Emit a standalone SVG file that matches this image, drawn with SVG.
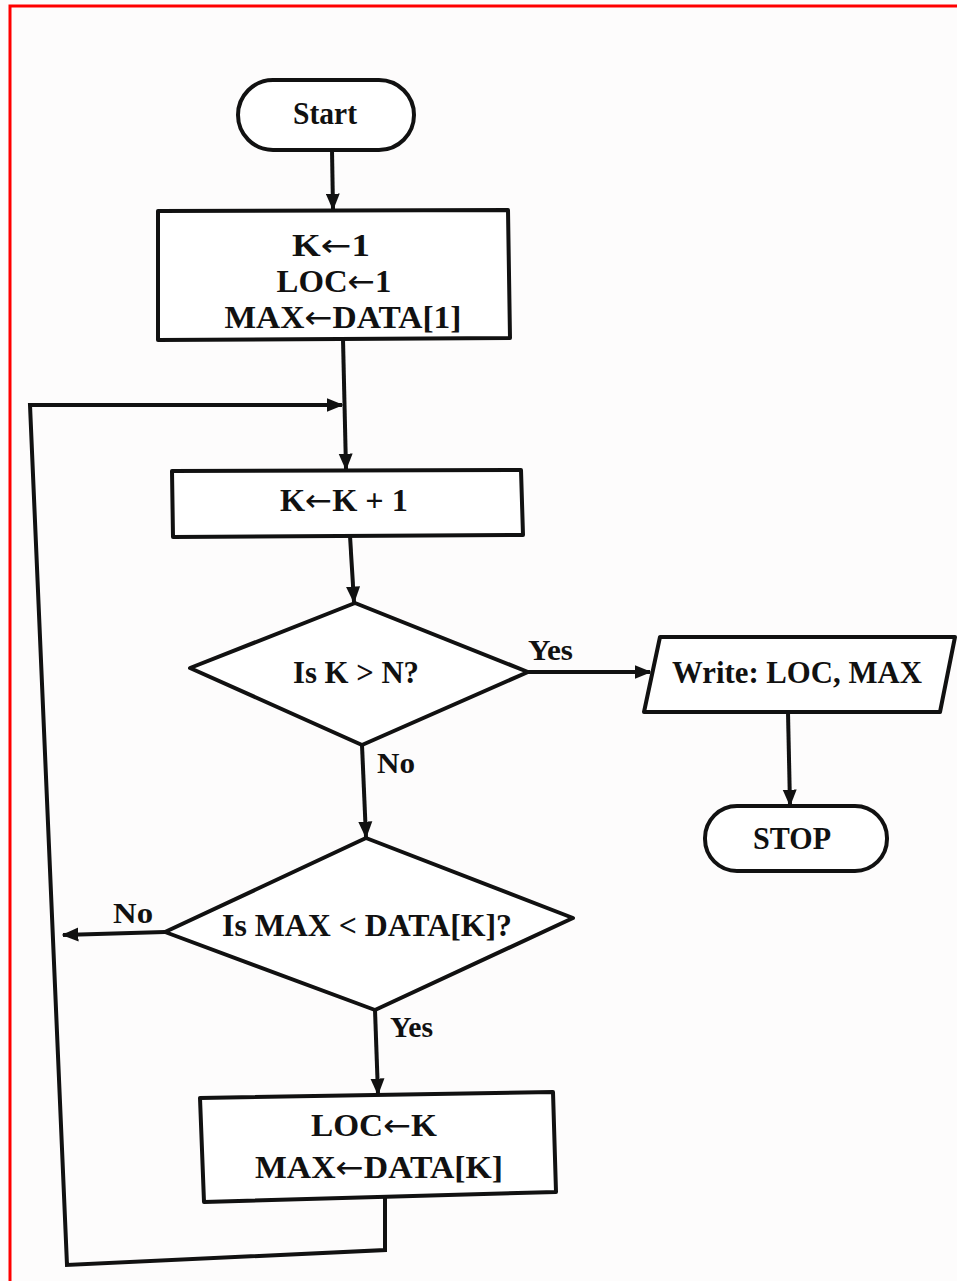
<svg xmlns="http://www.w3.org/2000/svg" width="957" height="1281" viewBox="0 0 957 1281">
<defs>
<style>
.s{fill:#fff;stroke:#111;stroke-width:4;stroke-linejoin:round}
.c{fill:none;stroke:#111;stroke-width:4;stroke-linejoin:miter}
.t{font-family:"Liberation Serif","Times New Roman",serif;font-size:31px;font-weight:bold;fill:#111;text-anchor:middle}
.l{font-family:"Liberation Serif","Times New Roman",serif;font-size:29px;font-weight:bold;fill:#111}
.ar{font-family:"DejaVu Sans",sans-serif;font-weight:normal}
</style>
<marker id="a" viewBox="0 0 12 10" refX="11" refY="5" markerWidth="4.2" markerHeight="3.6" orient="auto" markerUnits="strokeWidth">
<path d="M0,0 L12,5 L0,10 Z" fill="#111"/>
</marker>
</defs>
<rect x="0" y="0" width="957" height="1281" fill="#fdfcfc"/>
<path d="M957,6 H10 V1281" fill="none" stroke="#f00" stroke-width="3"/>

<g id="connectors">
<line class="c" x1="332" y1="150" x2="333" y2="209" marker-end="url(#a)"/>
<line class="c" x1="343" y1="339" x2="346" y2="469" marker-end="url(#a)"/>
<polyline class="c" points="385,1196 385,1250 67,1265 30,405 342,405" marker-end="url(#a)"/>
<line class="c" x1="350" y1="536" x2="354" y2="602" marker-end="url(#a)"/>
<line class="c" x1="528" y1="672" x2="650" y2="672" marker-end="url(#a)"/>
<line class="c" x1="788" y1="712" x2="790" y2="805" marker-end="url(#a)"/>
<line class="c" x1="362" y1="745" x2="366" y2="837" marker-end="url(#a)"/>
<line class="c" x1="165" y1="932" x2="63" y2="935" marker-end="url(#a)"/>
<line class="c" x1="375" y1="1010" x2="378" y2="1094" marker-end="url(#a)"/>
<text class="l" x="528" y="660" textLength="45" lengthAdjust="spacingAndGlyphs">Yes</text>
<text class="l" x="377" y="773" textLength="38" lengthAdjust="spacingAndGlyphs">No</text>
<text class="l" x="113" y="923" textLength="40" lengthAdjust="spacingAndGlyphs">No</text>
<text class="l" x="390" y="1037" textLength="43" lengthAdjust="spacingAndGlyphs">Yes</text>
</g>

<g id="start">
<rect class="s" x="238" y="80" width="176" height="70" rx="35"/>
<text class="t" x="325" y="124" textLength="64" lengthAdjust="spacingAndGlyphs">Start</text>
</g>

<g id="init">
<polygon class="s" points="158,211 508,210 510,338 158,340"/>
<text class="t" x="331" y="256" textLength="78" lengthAdjust="spacingAndGlyphs">K<tspan class="ar">←</tspan>1</text>
<text class="t" x="334" y="292" textLength="115" lengthAdjust="spacingAndGlyphs">LOC<tspan class="ar">←</tspan>1</text>
<text class="t" x="343" y="328" textLength="237" lengthAdjust="spacingAndGlyphs">MAX<tspan class="ar">←</tspan>DATA[1]</text>
</g>

<g id="increment">
<polygon class="s" points="172,471 521,470 523,535 173,537"/>
<text class="t" x="344" y="511" textLength="128" lengthAdjust="spacingAndGlyphs">K<tspan class="ar">←</tspan>K + 1</text>
</g>

<g id="test-k">
<polygon class="s" points="355,603 528,672 362,745 190,668"/>
<text class="t" x="356" y="683" textLength="126" lengthAdjust="spacingAndGlyphs">Is K &gt; N?</text>
</g>

<g id="write">
<polygon class="s" points="660,637 955,637 940,712 644,712"/>
<text class="t" x="797" y="683" textLength="250" lengthAdjust="spacingAndGlyphs">Write: LOC, MAX</text>
</g>

<g id="stop">
<rect class="s" x="705" y="806" width="182" height="65" rx="32"/>
<text class="t" x="792" y="849" textLength="78" lengthAdjust="spacingAndGlyphs">STOP</text>
</g>

<g id="test-max">
<polygon class="s" points="366,838 573,918 375,1010 165,932"/>
<text class="t" x="367" y="936" textLength="290" lengthAdjust="spacingAndGlyphs">Is MAX &lt; DATA[K]?</text>
</g>

<g id="update">
<polygon class="s" points="200,1098 553,1092 556,1192 204,1202"/>
<text class="t" x="374" y="1136" textLength="126" lengthAdjust="spacingAndGlyphs">LOC<tspan class="ar">←</tspan>K</text>
<text class="t" x="379" y="1178" textLength="248" lengthAdjust="spacingAndGlyphs">MAX<tspan class="ar">←</tspan>DATA[K]</text>
</g>
</svg>
